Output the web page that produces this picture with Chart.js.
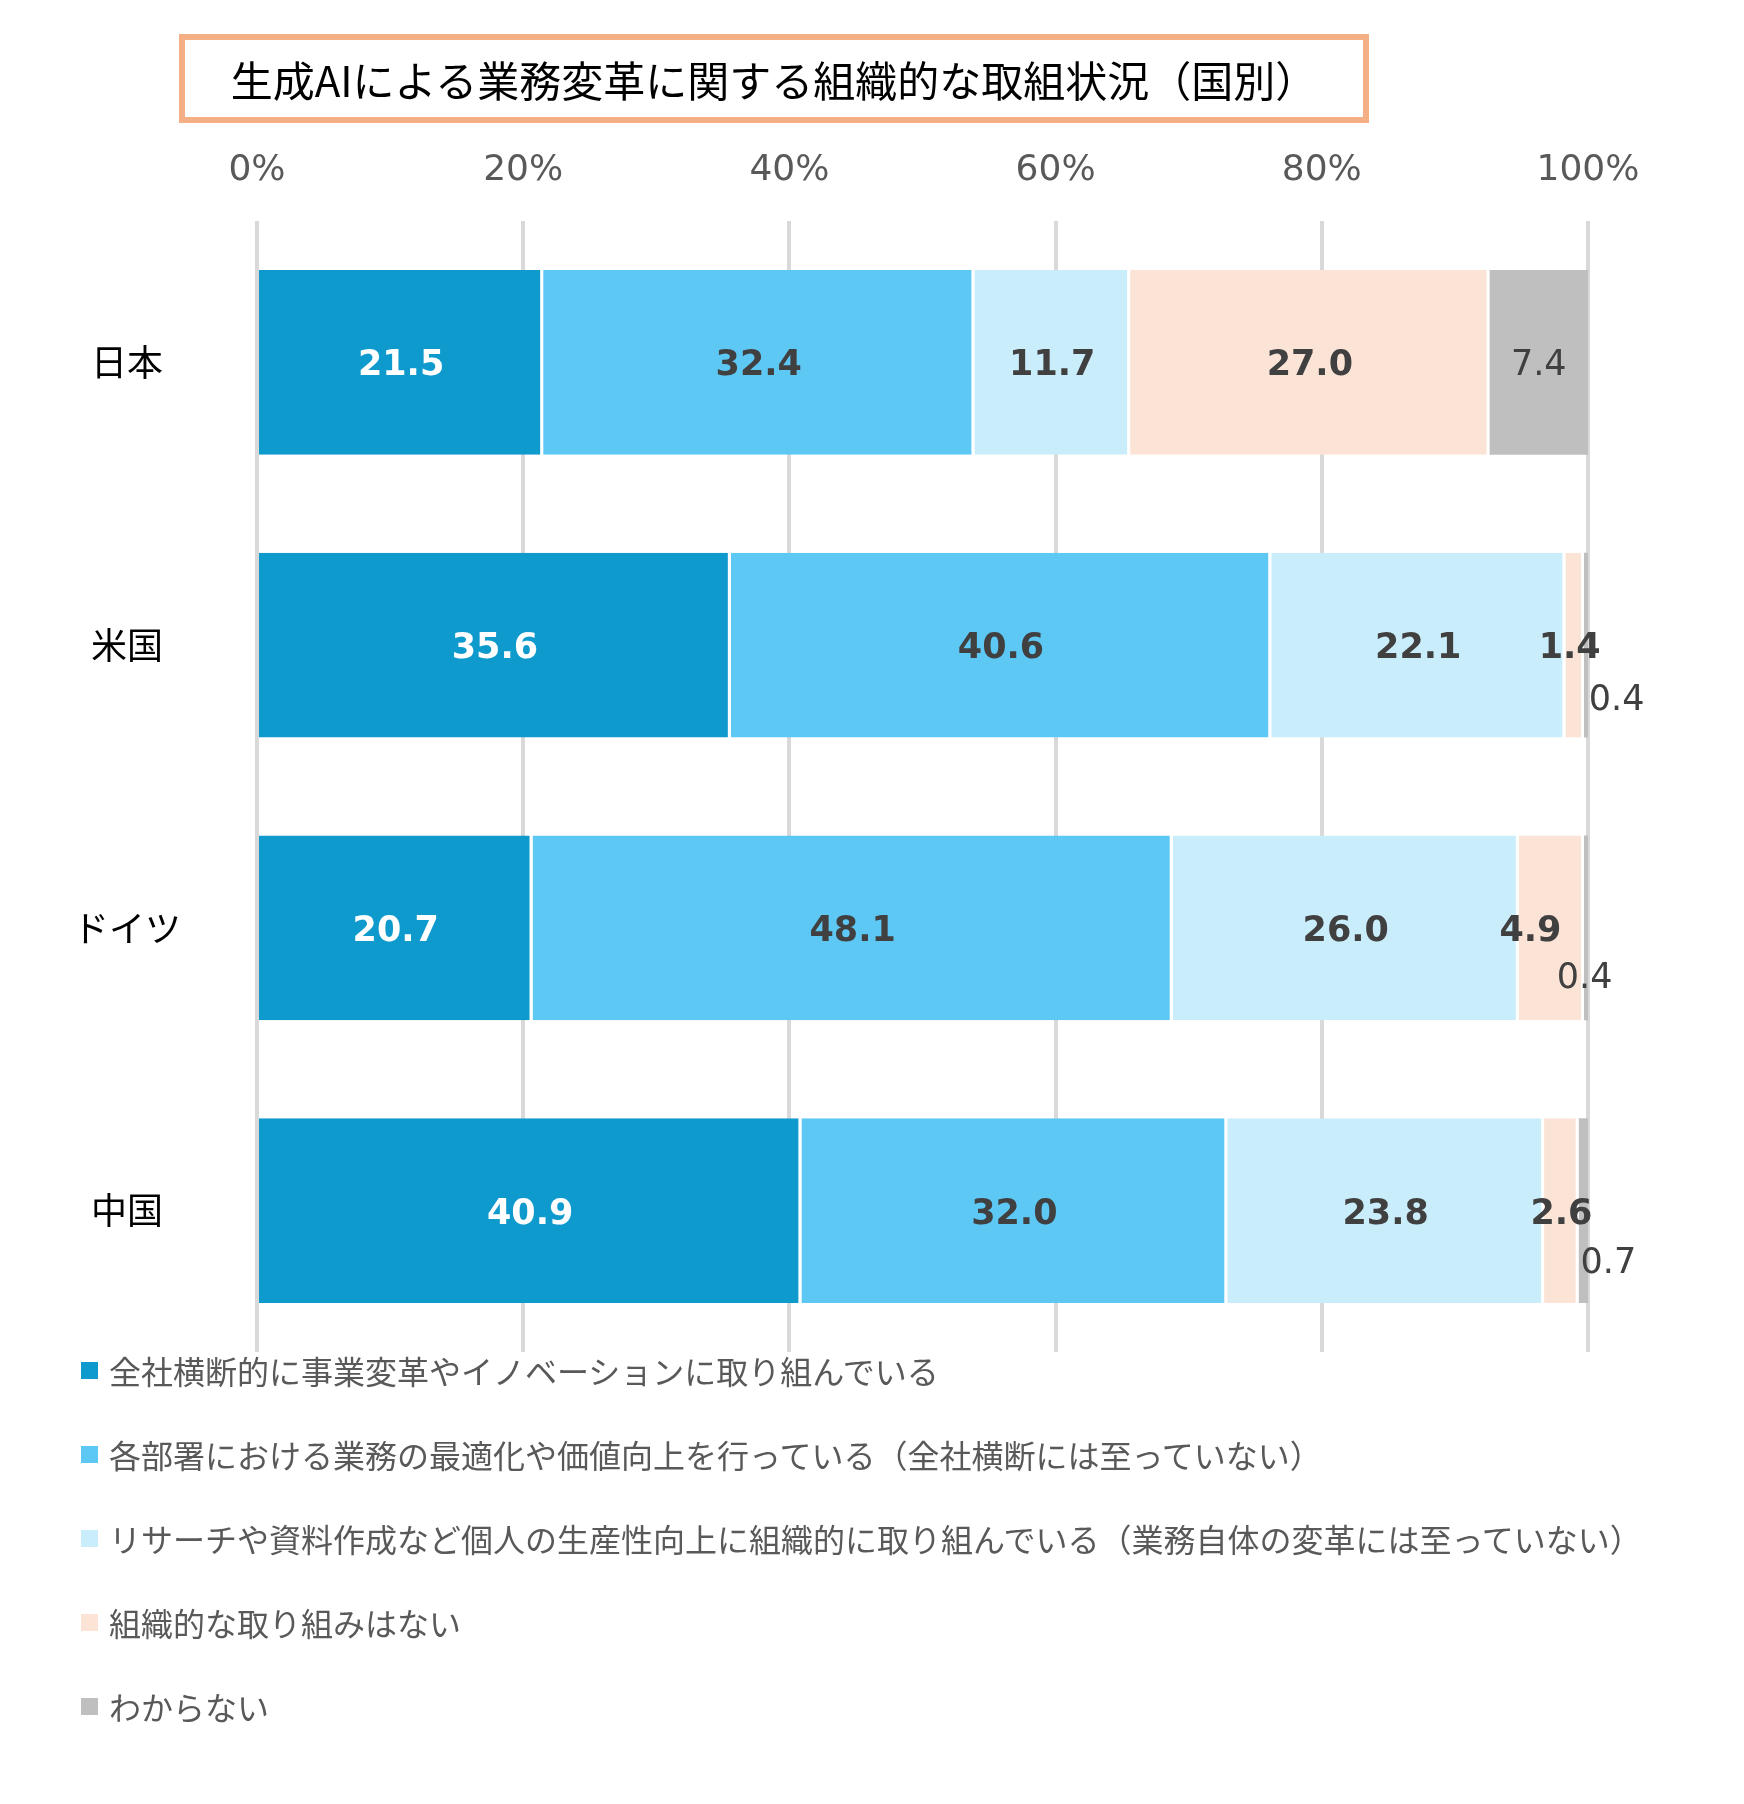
<!DOCTYPE html>
<html lang="ja">
<head>
<meta charset="utf-8">
<script src="https://cdn.jsdelivr.net/npm/chart.js@4.4.1/dist/chart.umd.min.js"></script>
<style>
  body { margin: 0; background: #fff; }
  #wrap { position: relative; width: 1744px; height: 1804px; }
  #chart { position: absolute; left: 0; top: 0; }
  #title {
    position: absolute; left: 179px; top: 34px; width: 1190px; height: 89px;
    box-sizing: border-box; border: 6px solid #f4b084;
    display: flex; align-items: center; justify-content: center;
    font: 42px "Noto Sans CJK JP", sans-serif; color: #000;
  }
  #legend {
    position: absolute; left: 81px; top: 1328px; margin: 0; padding: 0; list-style: none;
    font: 32px "Noto Sans CJK JP", sans-serif; color: #595959;
  }
  #legend li { height: 84px; display: flex; align-items: center; white-space: nowrap; }
  #legend span.box { width: 17px; height: 17px; margin-right: 11px; flex: none; }
</style>
</head>
<body>
<div id="wrap">
  <canvas id="chart" width="1744" height="1804"></canvas>
  <div id="title">生成AIによる業務変革に関する組織的な取組状況（国別）</div>
  <ul id="legend"></ul>
</div>
<script>
// 国（縦軸）
const countries = ['日本', '米国', 'ドイツ', '中国'];

// 系列名
const seriesNames = [
  '全社横断的に事業変革やイノベーションに取り組んでいる',
  '各部署における業務の最適化や価値向上を行っている（全社横断には至っていない）',
  'リサーチや資料作成など個人の生産性向上に組織的に取り組んでいる（業務自体の変革には至っていない）',
  '組織的な取り組みはない',
  'わからない'
];

// 値（％）、国の順
const zensha    = [21.5, 35.6, 20.7, 40.9];
const kakubusho = [32.4, 40.6, 48.1, 32.0];
const kojin     = [11.7, 22.1, 26.0, 23.8];
const nashi     = [27.0, 1.4, 4.9, 2.6];
const wakaranai = [7.4, 0.4, 0.4, 0.7];

// 軸の目盛
const xTicks = [0, 20, 40, 60, 80, 100];

const colors = ['#0f9ace', '#5ec8f5', '#caedfb', '#fbe3d6', '#bfbfbf'];
const values = [zensha, kakubusho, kojin, nashi, wakaranai];

// データラベル（棒の中央に描く、小さい値は少しずらす）
const barLabels = {
  id: 'barLabels',
  afterDatasetsDraw(chart, args, opts) {
    const ctx = chart.ctx;
    chart.data.datasets.forEach(function(ds, i) {
      const meta = chart.getDatasetMeta(i);
      meta.data.forEach(function(bar, j) {
        const nudge = (opts.nudge[i] && opts.nudge[i][j]) || [0, 0];
        const x = (bar.x + bar.base) / 2 + nudge[0];
        const y = bar.y + nudge[1] + 4; // 数字の見た目の中心を少し下へ
        ctx.save();
        ctx.font = (i < 4 ? 'bold ' : '') + '35px "DejaVu Sans", sans-serif';
        ctx.fillStyle = i === 0 ? '#ffffff' : '#404040';
        ctx.textAlign = 'center';
        ctx.textBaseline = 'middle';
        ctx.fillText(ds.data[j].toFixed(1), x, y);
        ctx.restore();
      });
    });
  }
};

const datasets = seriesNames.map(function(name, i) {
  return {
    label: name,
    data: values[i],
    backgroundColor: colors[i],
    borderColor: '#ffffff',
    borderWidth: i < 4 ? {right: 3, left: 0, top: 0, bottom: 0} : 0,
    borderSkipped: false,
    barPercentage: 0.654,
    categoryPercentage: 1.0
  };
});

const chart = new Chart(document.getElementById('chart'), {
  type: 'bar',
  data: { labels: countries, datasets: datasets },
  options: {
    indexAxis: 'y',
    responsive: false,
    animation: false,
    layout: { padding: { left: 0, right: 156, top: 0, bottom: 452 } },
    scales: {
      x: {
        position: 'top',
        stacked: true,
        min: 0,
        max: 100,
        afterBuildTicks: function(s) { s.ticks = xTicks.map(function(v) { return {value: v}; }); },
        afterFit: function(s) { s.height = 221; },
        grid: { color: '#d9d9d9', lineWidth: 4, drawTicks: false },
        border: { display: false },
        ticks: {
          padding: 29,
          color: '#595959',
          font: { family: '"DejaVu Sans", sans-serif', size: 36 },
          callback: function(v) { return v + '%'; }
        }
      },
      y: {
        stacked: true,
        afterFit: function(s) { s.width = 257; },
        grid: { display: false, drawTicks: false },
        border: { display: false },
        ticks: {
          crossAlign: 'center',
          padding: 76,
          color: '#000000',
          font: { family: '"Noto Sans CJK JP", sans-serif', size: 36 }
        }
      }
    },
    plugins: {
      legend: { display: false },
      tooltip: { enabled: false },
      barLabels: {
        nudge: {
          3: { 1: [-5, 0], 2: [-21, 0] },
          4: { 1: [30, 52], 2: [-2, 47], 3: [25, 49] }
        }
      }
    }
  },
  plugins: [barLabels]
});

// 凡例（HTML）
const legendBox = document.getElementById('legend');
chart.data.datasets.forEach(function(ds) {
  const li = document.createElement('li');
  const box = document.createElement('span');
  box.className = 'box';
  box.style.background = ds.backgroundColor;
  li.appendChild(box);
  li.appendChild(document.createTextNode(ds.label));
  legendBox.appendChild(li);
});
</script>
</body>
</html>
